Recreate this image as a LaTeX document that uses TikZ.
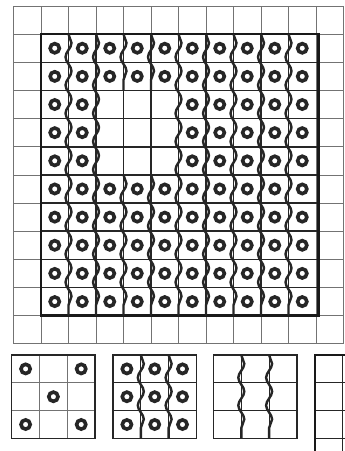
\documentclass[tikz,border=0pt]{standalone}
\usepackage{tikz}
\usetikzlibrary{decorations.pathmorphing}

\begin{document}
\begin{tikzpicture}[
      x=1pt, y=-1pt,
      thin grid/.style={draw=black!55, line width=0.7pt},
      cell line/.style={draw=black!85, line width=1.6pt},
      frame/.style={draw=black!90, line width=2.6pt},
      box/.style={draw=black!85, line width=1.5pt},
      ring/.style={draw=black!85, line width=3.6pt},
      wave/.style={
        draw=black!85, line width=2.4pt, decorate,
        decoration={snake, segment length=28.15pt, amplitude=3pt}
      }
    ]
    \useasboundingbox (0,0) rectangle (345,451);
    \clip (0,0) rectangle (345,451);
    \fill[white] (0,0) rectangle (345,451);

    \foreach \i in {0,...,12} {
      \draw[thin grid] ({13.5+27.5*\i},6) -- ({13.5+27.5*\i},343.8);
      \draw[thin grid] (13.5,{6+28.15*\i}) -- (343.5,{6+28.15*\i});
    }
    \foreach \i in {2,...,10} {
      \draw[cell line] ({13.5+27.5*\i},34.15) -- ({13.5+27.5*\i},315.65);
      \draw[cell line] (41,{6+28.15*\i}) -- (318.5,{6+28.15*\i});
    }
    \draw[frame] (41,34.15) rectangle (318.5,315.65);

    \foreach \r in {1,...,10}
      \foreach \c in {1,...,10} {
        \pgfmathtruncatemacro\hole{(\r>2)*(\r<6)*(\c>2)*(\c<6)}
        \ifnum\hole=0
          \draw[ring] ({13.5+27.5*\c+13.75},{6+28.15*\r+14.07}) circle (4.6pt);
        \fi
      }

    \foreach \i in {2,3,6,7,8,9,10}
      \draw[wave] ({13.5+27.5*\i},34.15) -- ({13.5+27.5*\i},315.65);
    \foreach \i in {4,5} {
      \draw[wave] ({13.5+27.5*\i},34.15) -- ({13.5+27.5*\i},90.45);
      \draw[wave] ({13.5+27.5*\i},174.9) -- ({13.5+27.5*\i},315.65);
    }

    % small panels
    \foreach \i in {1,2} {
      \draw[thin grid] ({11.7+27.8*\i},355) -- ({11.7+27.8*\i},438.4);
      \draw[thin grid] (11.7,{355+27.8*\i}) -- (95.1,{355+27.8*\i});
      \draw[cell line, line width=1.2pt] ({113+27.8*\i},355) -- ({113+27.8*\i},438.4);
      \draw[cell line, line width=1.2pt] (113,{355+27.8*\i}) -- (196.4,{355+27.8*\i});
      \draw[cell line, line width=1.2pt] ({213.5+27.8*\i},355) -- ({213.5+27.8*\i},438.4);
      \draw[cell line, line width=1.2pt] (213.5,{355+27.8*\i}) -- (296.9,{355+27.8*\i});
    }
    \draw[box] (11.7,355) rectangle (95.1,438.4);
    \draw[box] (113,355) rectangle (196.4,438.4);
    \draw[box] (213.5,355) rectangle (296.9,438.4);

    \foreach \c/\r in {0/0, 2/0, 1/1, 0/2, 2/2}
      \draw[ring] ({11.7+27.8*\c+13.9},{355+27.8*\r+13.9}) circle (4.6pt);
    \foreach \c in {0,1,2}
      \foreach \r in {0,1,2}
        \draw[ring] ({113+27.8*\c+13.9},{355+27.8*\r+13.9}) circle (4.6pt);
    \foreach \x in {140.8,168.6,241.3,269.1}
      \draw[wave, decoration={segment length=27.8pt}] (\x,355) -- (\x,438.4);

    \foreach \j in {1,2,3,4}
      \draw[cell line, line width=1.2pt] (315,{355+27.8*\j}) -- (360,{355+27.8*\j});
    \draw[cell line, line width=1.2pt] (342.5,355) -- (342.5,470);
    \draw[frame, line width=2.2pt] (315,355) rectangle (372,480);
  \end{tikzpicture}
\end{document}
